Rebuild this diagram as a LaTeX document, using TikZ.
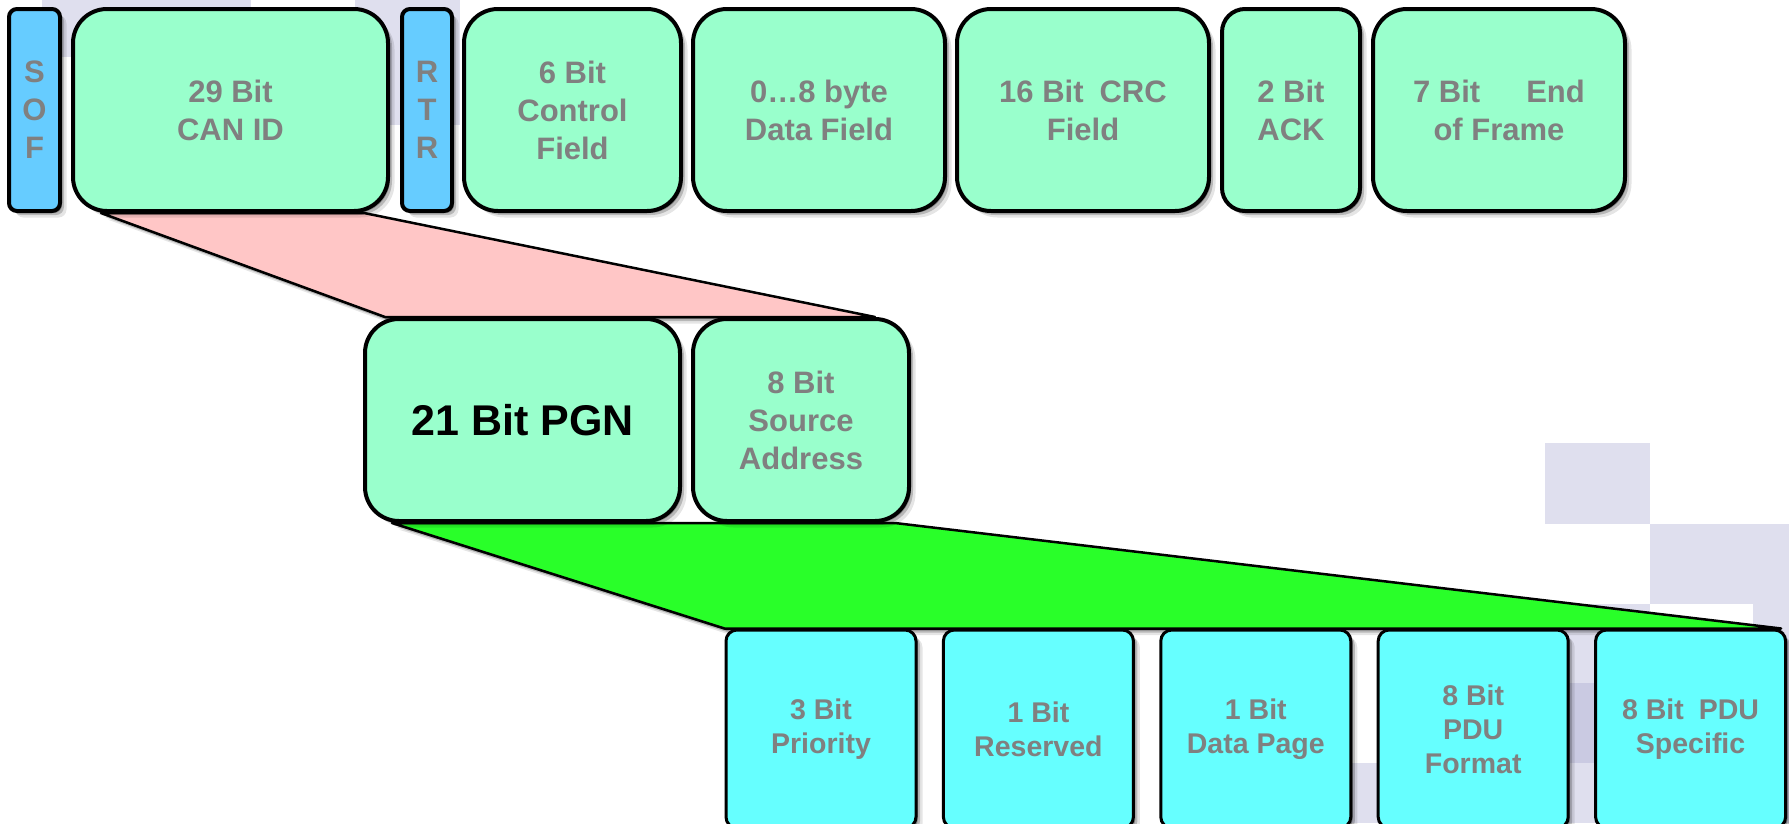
\documentclass[tikz,border=0pt]{standalone}
\usepackage{fontspec}
\setmainfont{Liberation Sans}
\usetikzlibrary{shadows,calc}

\definecolor{mint}{RGB}{153,255,204}
\definecolor{skyblue}{RGB}{102,204,255}
\definecolor{aqua}{RGB}{102,255,255}
\definecolor{salmonfill}{RGB}{255,198,198}
\definecolor{limefill}{RGB}{41,255,41}
\definecolor{labelgray}{RGB}{128,128,128}
\definecolor{bgtile}{RGB}{223,223,238}
\definecolor{bgtiledark}{RGB}{202,202,226}

\pgfdeclarelayer{wedges}
\pgfsetlayers{wedges,main}

\tikzset{
  softshadow/.style={
      drop shadow={shadow xshift=2pt, shadow yshift=-2pt, opacity=0.28, fill=black},
      drop shadow={shadow xshift=4pt, shadow yshift=-4pt, opacity=0.2, fill=black},
      drop shadow={shadow xshift=6.5pt, shadow yshift=-6.5pt, opacity=0.1, fill=black}},
  field/.style={draw=black, line width=4pt, rounded corners=34pt, fill=mint,
      minimum height=202pt, inner sep=0pt, align=center,
      font=\fontsize{31}{38}\selectfont\bfseries, text=labelgray, softshadow},
  bitbox/.style={field, rounded corners=8pt, fill=skyblue},
  subfield/.style={draw=black, line width=3pt, rounded corners=11pt, fill=aqua,
      minimum width=190pt, minimum height=198pt, inner sep=0pt, align=center,
      font=\fontsize{28.5}{34}\selectfont\bfseries, text=labelgray, softshadow},
  wedge/.style={draw=black, line width=2.5pt, line join=round, softshadow},
}

\begin{document}
\begin{tikzpicture}[x=1pt,y=-1pt]
\useasboundingbox (0,0) rectangle (1789,823);

% background tiles, lowest layer
\begin{pgfonlayer}{wedges}
  \fill[bgtile] (42,0) rectangle (251,57);
  \fill[bgtile] (355,0) rectangle (460,125);
  \fill[bgtile] (1545,443) rectangle (1650,524);
  \fill[bgtile] (1650,524) rectangle (1789,604);
  \fill[bgtile] (1753,604) rectangle (1789,823);
  \fill[bgtile] (1545,604) rectangle (1650,823);
  \fill[bgtiledark] (1545,683) rectangle (1650,763);
  \fill[bgtile] (1335,763) rectangle (1440,823);
\end{pgfonlayer}

% CAN frame
\node[bitbox, minimum width=51pt]  (sof)  at (34.5,110) {S\\O\\F};
\node[field, minimum width=315pt]  (can)  at (230.5,110) {29 Bit\\CAN ID};
\node[bitbox, minimum width=50pt]  (rtr)  at (427,110) {R\\T\\R};
\node[field, minimum width=217pt]  (ctrl) at (572.5,110) {6 Bit\\Control\\Field};
\node[field, minimum width=252pt]  (data) at (819,110) {0…8 byte\\Data Field};
\node[field, minimum width=252pt]  (crc)  at (1083,110) {16 Bit\hspace{16pt}CRC\\Field};
\node[field, minimum width=138pt, rounded corners=23pt] (ack) at (1291,110) {2 Bit\\ACK};
\node[field, minimum width=252pt]  (eof)  at (1499,110) {7 Bit\hspace{46pt}End\\of Frame};

% 29 bit identifier
\node[field, minimum width=315pt, text=black,
      font=\fontsize{43}{50}\selectfont\bfseries] (pgn) at (522.5,420) {21 Bit PGN};
\node[field, minimum width=216pt] (sa) at (801,420) {8 Bit\\Source\\Address};

% PGN breakdown
\node[subfield] (prio) at (821,729)    {3 Bit\\Priority};
\node[subfield] (res)  at (1038.4,729) {1 Bit\\Reserved};
\node[subfield] (dp)   at (1255.8,729) {1 Bit\\Data Page};
\node[subfield] (pf)   at (1473.2,729) {8 Bit\\PDU\\Format};
\node[subfield] (ps)   at (1690.6,729) {8 Bit\hspace{15pt}PDU\\Specific};

% expansion wedges, drawn behind the boxes
\begin{pgfonlayer}{wedges}
  \draw[wedge, fill=salmonfill]
    ($(can.south west)+(30,0)$) -- ($(can.south east)+(-26,0)$)
    -- ($(sa.north east)+(-36,0)$) -- ($(pgn.north west)+(22,0)$) -- cycle;
  \draw[wedge, fill=limefill]
    ($(pgn.south west)+(29,0)$) -- ($(sa.south east)+(-16,0)$)
    -- ($(ps.north east)+(-6,0)$) -- (prio.north west) -- cycle;
\end{pgfonlayer}
\end{tikzpicture}
\end{document}
